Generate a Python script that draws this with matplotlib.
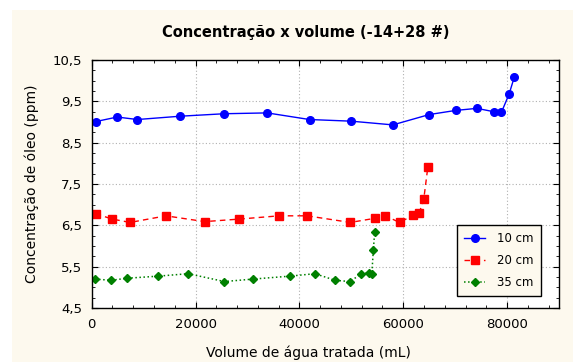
import matplotlib
matplotlib.use("Agg")
import matplotlib.pyplot as plt
from matplotlib.patches import Rectangle
from matplotlib.ticker import MultipleLocator, FuncFormatter

# ---- data ----
x10 = [770, 4900, 8800, 17050, 25550, 33800, 41950, 50000, 58000, 65000,
       70100, 74200, 77400, 78900, 80400, 81400]
y10 = [9.01, 9.12, 9.06, 9.14, 9.20, 9.22, 9.06, 9.02, 8.93, 9.18,
       9.28, 9.33, 9.25, 9.23, 9.68, 10.09]

x20 = [770, 4000, 7400, 14300, 21750, 28300, 36100, 41500, 49800, 54550,
       56550, 59300, 61850, 63050, 63950, 64750]
y20 = [6.78, 6.65, 6.57, 6.73, 6.59, 6.65, 6.73, 6.73, 6.57, 6.67,
       6.73, 6.57, 6.74, 6.79, 7.13, 7.92]

x35 = [650, 3750, 6800, 12750, 18600, 25550, 31100, 38100, 43000, 46900,
       49750, 51950, 53400, 53950, 54250, 54500]
y35 = [5.20, 5.17, 5.22, 5.27, 5.33, 5.14, 5.20, 5.27, 5.33, 5.17,
       5.14, 5.33, 5.35, 5.33, 5.91, 6.35]

labels = ["10 cm", "20 cm", "35 cm"]
title = "Concentração x volume (-14+28 #)"
xlabel = "Volume de água tratada (mL)"
ylabel = "Concentração de óleo (ppm)"

cream = "#fdf9ee"
W, H = 573, 362
fig = plt.figure(figsize=(W / 100, H / 100), dpi=100)
fig.patch.set_facecolor("white")
fig.patches.append(Rectangle((12 / W, 0), 1 - 12 / W, 1 - 10 / H,
                             transform=fig.transFigure, facecolor=cream,
                             edgecolor="none", zorder=-10))

ax = fig.add_axes([91.7 / W, 1 - 308 / H, (559 - 91.7) / W, (308 - 60) / H])
ax.set_facecolor("white")

ax.plot(x10, y10, color="#0000ff", linestyle="-", marker="o", markersize=5.5,
        linewidth=1, label=labels[0])
ax.plot(x20, y20, color="#ff0000", linestyle=(0, (4, 3)), marker="s",
        markersize=5.5, linewidth=1, label=labels[1])
ax.plot(x35, y35, color="#008000", linestyle=":", marker="D", markersize=4.5,
        linewidth=1.1, label=labels[2])

ax.set_xlim(0, 90000)
ax.set_ylim(4.5, 10.5)
ax.xaxis.set_major_locator(MultipleLocator(20000))
ax.xaxis.set_minor_locator(MultipleLocator(4000))
ax.yaxis.set_minor_locator(MultipleLocator(0.25))
ax.set_yticks([4.5, 5.5, 6.5, 7.5, 8.5, 9.5, 10.5])
ax.yaxis.set_major_formatter(FuncFormatter(lambda v, p: f"{v:.1f}".replace(".", ",")))
ax.xaxis.set_major_formatter(FuncFormatter(lambda v, p: f"{int(v)}"))

ax.tick_params(which="both", direction="in", top=True, right=True,
               labelsize=9.5, colors="black")
ax.tick_params(which="major", length=4, pad=7)
ax.tick_params(which="minor", length=2.5)
for s in ax.spines.values():
    s.set_linewidth(1)
ax.grid(True, which="major", linestyle=(0, (1, 2)), color="#b0b0b0", linewidth=0.8)
ax.set_axisbelow(True)

leg = ax.legend(loc="lower left", bbox_to_anchor=(0.782, 0.048), fontsize=8.5,
                frameon=True, fancybox=False, facecolor=cream, edgecolor="black",
                framealpha=1, handlelength=1.8, labelspacing=0.75,
                borderpad=0.6, handletextpad=1.0, borderaxespad=0)
leg.get_frame().set_linewidth(1)

fig.text(306 / W, 1 - 32 / H, title, ha="center", va="center",
         fontsize=10.5, fontweight="bold")
fig.text(308 / W, 1 - 353 / H, xlabel, ha="center", va="center", fontsize=10)
fig.text(32 / W, 1 - 184 / H, ylabel, ha="center", va="center",
         rotation=90, fontsize=10)

fig.savefig("out.png", dpi=100, facecolor=fig.get_facecolor())
